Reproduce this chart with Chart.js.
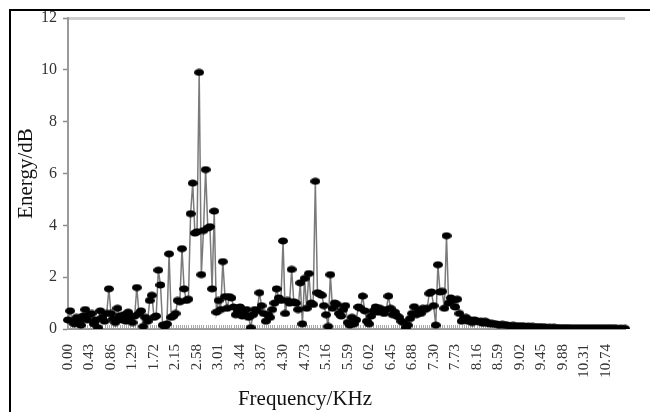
<!DOCTYPE html>
<html>
<head>
<meta charset="utf-8">
<script src="https://cdn.jsdelivr.net/npm/chart.js@4.4.1/dist/chart.umd.min.js"></script>
<style>
  body { margin: 0; background: #fff; }
  #wrap { position: relative; width: 650px; height: 412px; overflow: hidden; }
  #frame { position: absolute; left: 9px; top: 9px; width: 700px; height: 500px;
           border-left: 2px solid #000; border-top: 2px solid #000; }
  canvas { position: absolute; left: 0; top: 0; }
</style>
</head>
<body>
<div id="wrap">
  <div id="frame"></div>
  <canvas id="spectrum" width="650" height="412"></canvas>
</div>
<script>
// energy per frequency bin (dB)
let energy = [
  0.35, 0.7, 0.3, 0.2, 0.45, 0.3, 0.15, 0.5, 0.75, 0.35,
  0.55, 0.6, 0.2, 0.35, 0.05, 0.7, 0.45, 0.3, 0.6, 1.55,
  0.6, 0.4, 0.25, 0.8, 0.5, 0.35, 0.55, 0.3, 0.65, 0.45,
  0.25, 0.5, 1.6, 0.6, 0.7, 0.1, 0.45, 0.3, 1.1, 1.3,
  0.45, 0.5, 2.27, 1.7, 0.15, 0.1, 0.2, 2.9, 0.45, 0.5,
  0.6, 1.1, 1.05, 3.1, 1.55, 1.1, 1.15, 4.45, 5.63, 3.7,
  3.75, 9.9, 2.1, 3.8, 6.15, 3.9, 3.95, 1.55, 4.55, 0.65,
  1.1, 0.75, 2.6, 1.25, 0.8, 1.25, 1.2, 0.85, 0.55, 0.7,
  0.85, 0.5, 0.6, 0.75, 0.45, 0.05, 0.55, 0.75, 0.7, 1.4,
  0.9, 0.6, 0.3, 0.55, 0.45, 0.75, 1.0, 1.55, 1.2, 1.1,
  3.4, 0.6, 1.1, 1.0, 2.3, 1.05, 1.0, 0.75, 1.78, 0.2,
  1.95, 0.8, 2.14, 1.0, 0.95, 5.7, 1.4, 1.35, 1.3, 0.9,
  0.55, 0.1, 2.1, 0.8, 1.0, 0.95, 0.6, 0.5, 0.75, 0.9,
  0.25, 0.15, 0.45, 0.2, 0.35, 0.85, 0.8, 1.27, 0.7, 0.3,
  0.2, 0.5, 0.7, 0.85, 0.65, 0.8, 0.7, 0.6, 0.75, 1.27,
  0.8, 0.55, 0.65, 0.5, 0.45, 0.3, 0.25, 0.05, 0.15, 0.4,
  0.6, 0.86, 0.55, 0.7, 0.6, 0.8, 0.75, 0.8, 1.37, 1.43,
  0.9, 0.15, 2.48, 1.43, 1.45, 0.8, 3.6, 1.0, 1.2, 1.1,
  0.85, 1.15, 0.6, 0.3, 0.4, 0.45, 0.3, 0.35, 0.25, 0.35,
  0.3, 0.28, 0.3, 0.22, 0.3, 0.25, 0.2, 0.22, 0.18, 0.2,
  0.17, 0.15, 0.18, 0.14, 0.16, 0.13, 0.12, 0.14, 0.11, 0.12,
  0.1, 0.12, 0.1, 0.09, 0.11, 0.08, 0.1, 0.08, 0.07, 0.09,
  0.07, 0.06, 0.07, 0.05, 0.06, 0.05, 0.06, 0.05, 0.04, 0.05,
  0.04, 0.04, 0.05, 0.04, 0.03, 0.04, 0.03, 0.04, 0.03, 0.03,
  0.04, 0.03, 0.02, 0.03, 0.03, 0.02, 0.03, 0.02, 0.03, 0.02,
  0.02, 0.03, 0.02, 0.02, 0.02, 0.02, 0.01, 0.02, 0.01, 0.02
];

// labels printed under every 10th bin
let tickLabels = ["0.00", "0.43", "0.86", "1.29", "1.72", "2.15", "2.58", "3.01", "3.44",
  "3.87", "4.30", "4.73", "5.16", "5.59", "6.02", "6.45", "6.88", "7.30", "7.73",
  "8.16", "8.59", "9.02", "9.45", "9.88", "10.31", "10.74"];

let yTicks = [0, 2, 4, 6, 8, 10, 12];

let categories = energy.map(function(v, i) {
    return i % 10 == 0 ? tickLabels[i / 10] : "";
});

// flat black dot like the excel marker
let dot = document.createElement("canvas");
dot.width = 10;
dot.height = 8;
let dctx = dot.getContext("2d");
dctx.fillStyle = "#000";
dctx.beginPath();
dctx.ellipse(5, 4, 5, 3.6, 0, 0, Math.PI * 2);
dctx.fill();

const innerTicks = {
    id: "innerTicks",
    beforeDatasetsDraw(chart) {
        let x = chart.scales.x;
        let c = chart.ctx;
        c.save();
        c.strokeStyle = "#a8a8a8";
        c.lineWidth = 1;
        for (let i = 0; i < energy.length; i++) {
            let px = Math.round(x.getPixelForValue(i)) + 0.5;
            c.beginPath();
            c.moveTo(px, x.top - 4);
            c.lineTo(px, x.top);
            c.stroke();
        }
        c.restore();
    },
    afterDraw(chart) {
        let c = chart.ctx;
        c.save();
        c.font = "21px 'Liberation Serif'";
        c.fillStyle = "#111";
        c.textAlign = "center";
        c.textBaseline = "middle";
        c.fillText("Frequency/KHz", 305, 399);
        c.restore();
    }
};

let element = document.getElementById("spectrum");

const myChart = new Chart(element, {
    type: "line",
    data: {
        labels: categories,
        datasets: [{
            data: energy,
            borderColor: "#7a7a7a",
            borderWidth: 1.5,
            tension: 0,
            pointStyle: dot,
            pointRadius: 4,
            pointHoverRadius: 4
        }]
    },
    options: {
        responsive: false,
        animation: false,
        events: [],
        layout: { padding: { left: 10, right: 18, top: 18, bottom: 0 } },
        plugins: { legend: { display: false }, tooltip: { enabled: false } },
        scales: {
            x: {
                type: "category",
                offset: false,
                afterFit(scale) { scale.height = 83; },
                grid: { display: false },
                border: { display: true, color: "#9a9a9a", width: 2 },
                ticks: {
                    autoSkip: false,
                    maxRotation: 90,
                    minRotation: 90,
                    padding: 7,
                    color: "#333",
                    font: { family: "'Liberation Serif'", size: 15 },
                    callback: function(val, i) { return categories[i]; }
                }
            },
            y: {
                min: 0,
                max: 12,
                afterFit(scale) { scale.width = 58; },
                afterBuildTicks(scale) { scale.ticks = yTicks.map(function(v) { return { value: v }; }); },
                grid: {
                    color: function(ctx) { return ctx.tick && ctx.tick.value == 12 ? "#cfcfcf" : "rgba(0,0,0,0)"; },
                    lineWidth: function(ctx) { return ctx.tick && ctx.tick.value == 12 ? 3 : 1; },
                    tickColor: "#8a8a8a",
                    tickLength: 5,
                    tickWidth: 1.5
                },
                border: { display: true, color: "#9a9a9a", width: 2 },
                ticks: {
                    padding: 6,
                    color: "#333",
                    font: { family: "'Liberation Serif'", size: 16 }
                },
                title: {
                    display: true,
                    text: "Energy/dB",
                    color: "#111",
                    padding: { top: 4, bottom: 0 },
                    font: { family: "'Liberation Serif'", size: 21 }
                }
            }
        }
    },
    plugins: [innerTicks]
});
</script>
</body>
</html>
